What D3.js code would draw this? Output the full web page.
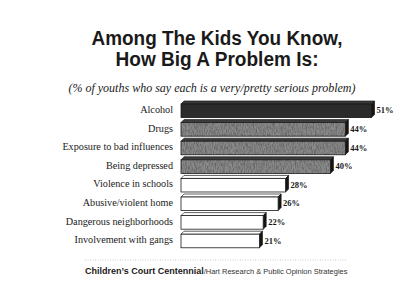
<!DOCTYPE html>
<html>
<head>
<meta charset="utf-8">
<script src="https://cdn.jsdelivr.net/npm/d3@7"></script>
<style>
  html, body { margin: 0; padding: 0; background: #fff; }
  svg { display: block; }
</style>
</head>
<body>
<script>
const categories = ["Alcohol", "Drugs", "Exposure to bad influences", "Being depressed",
  "Violence in schools", "Abusive/violent home", "Dangerous neighborhoods", "Involvement with gangs"];
const values = [51, 44, 44, 40, 28, 26, 22, 21];
const barStyle = ["dark", "gray", "gray", "gray", "white", "white", "white", "white"];
const titleLines = ["Among The Kids You Know,", "How Big A Problem Is:"];
const subtitle = "(% of youths who say each is a very/pretty serious problem)";
const sourceBold = "Children’s Court Centennial";
const sourceRest = "/Hart Research & Public Opinion Strategies";

const W = 400, H = 308;
const svg = d3.select("body").append("svg").attr("width", W).attr("height", H);
svg.append("rect").attr("width", W).attr("height", H).attr("fill", "#fff");

const defs = svg.append("defs");
const f = defs.append("filter").attr("id", "noise").attr("x", 0).attr("y", 0).attr("width", 1).attr("height", 1);
f.append("feTurbulence").attr("type", "fractalNoise").attr("baseFrequency", "1.1 0.3").attr("numOctaves", 2).attr("seed", 3).attr("result", "n");
f.append("feColorMatrix").attr("in", "n").attr("type", "matrix")
  .attr("values", "0 0 0 0 0  0 0 0 0 0  0 0 0 0 0  -1.3 0 0 0 0.85").attr("result", "m");
f.append("feComposite").attr("in", "m").attr("in2", "SourceGraphic").attr("operator", "in");

// Title
const titleWidths = [251, 203];
svg.append("g").selectAll("text").data(titleLines).join("text")
  .attr("x", 217).attr("y", (d, i) => 45 + i * 20.5)
  .attr("text-anchor", "middle")
  .attr("font-family", "Liberation Sans, Arial, sans-serif")
  .attr("font-weight", "bold")
  .attr("font-size", 19.5)
  .attr("textLength", (d, i) => titleWidths[i])
  .attr("lengthAdjust", "spacingAndGlyphs")
  .attr("fill", "#1a1a1a")
  .text(d => d);

svg.append("text").attr("x", 212).attr("y", 92)
  .attr("text-anchor", "middle")
  .attr("font-family", "Liberation Serif, Times New Roman, serif")
  .attr("font-style", "italic")
  .attr("font-size", 12)
  .attr("fill", "#1a1a1a")
  .text(subtitle);

const x = d3.scaleLinear().domain([0, 51]).range([181, 371.5]);
const y = d3.scaleBand().domain(categories).range([101.5, 250.3]).paddingInner(0.27).paddingOuter(0.135);
const d = 3;
const h = y.bandwidth();

const rows = svg.append("g").selectAll("g").data(categories).join("g");

// labels
rows.append("text")
  .attr("x", 173).attr("y", c => y(c) + h / 2 + 2.2)
  .attr("text-anchor", "end")
  .attr("font-family", "Liberation Serif, Times New Roman, serif")
  .attr("font-size", 10.2)
  .attr("fill", "#1a1a1a")
  .text(c => c);

const fronts = { dark: "#2b2b2b", gray: "#8a8a8a", white: "#ffffff" };
const tops = { dark: "#3a3a3a", gray: "#3c3c3c", white: "#ffffff" };

rows.each(function(c, i) {
  const g = d3.select(this);
  const s = barStyle[i];
  const x0 = x(0), x1 = x(values[i]), yt = y(c);
  // top face
  g.append("path")
    .attr("d", `M${x0},${yt}L${x0 + d},${yt - d}L${x1 + d},${yt - d}L${x1},${yt}Z`)
    .attr("fill", tops[s]).attr("stroke", "#1a1a1a").attr("stroke-width", 0.7);
  // side face
  g.append("path")
    .attr("d", `M${x1},${yt}L${x1 + d},${yt - d}L${x1 + d},${yt + h - d}L${x1},${yt + h}Z`)
    .attr("fill", "#151515").attr("stroke", "#151515").attr("stroke-width", 0.7);
  // front face
  g.append("rect")
    .attr("x", x0).attr("y", yt).attr("width", x1 - x0).attr("height", h)
    .attr("fill", fronts[s]).attr("stroke", "#1a1a1a").attr("stroke-width", 0.8);
  if (s === "gray") {
    g.append("rect")
      .attr("x", x0).attr("y", yt).attr("width", x1 - x0).attr("height", h)
      .attr("fill", "#444").attr("filter", "url(#noise)").attr("opacity", 0.45);
  }
  g.append("text")
    .attr("x", x1 + d + 2).attr("y", yt + h / 2 + 2.5)
    .attr("font-family", "Liberation Serif, Times New Roman, serif")
    .attr("font-weight", "bold")
    .attr("font-size", 8.5)
    .attr("fill", "#1a1a1a")
    .text(values[i] + "%");
});

// footer
svg.append("line").attr("x1", 85).attr("x2", 347).attr("y1", 260).attr("y2", 260)
  .attr("stroke", "#aaa").attr("stroke-width", 0.6).attr("stroke-dasharray", "1,1.5");
const ft = svg.append("text").attr("x", 85).attr("y", 274)
  .attr("font-family", "Liberation Sans, Arial, sans-serif").attr("fill", "#1a1a1a");
ft.append("tspan").attr("font-weight", "bold").attr("font-size", 9).text(sourceBold);
ft.append("tspan").attr("font-size", 7.5).attr("fill", "#333").text(sourceRest);
</script>
</body>
</html>
